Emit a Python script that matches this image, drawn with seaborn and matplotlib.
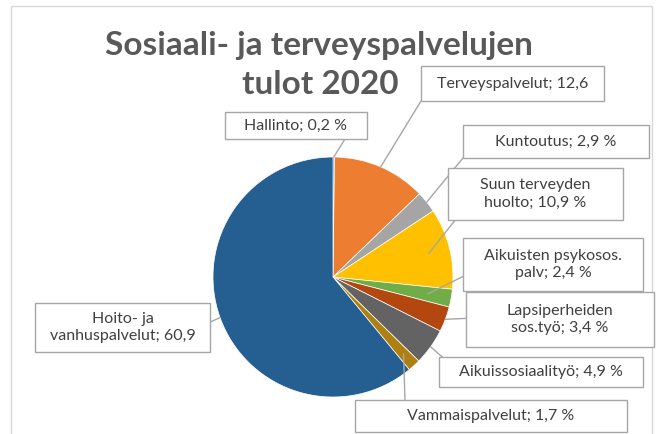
import numpy as np
import matplotlib
matplotlib.use("Agg")
import matplotlib.pyplot as plt
from matplotlib.patches import Rectangle
import seaborn as sns

# ----------------- Data -----------------
categories = [
    "Hallinto", "Terveyspalvelut", "Kuntoutus", "Suun terveyden huolto",
    "Aikuisten psykosos. palv", "Lapsiperheiden sos.työ", "Aikuissosiaalityö",
    "Vammaispalvelut", "Hoito- ja vanhuspalvelut",
]
shares = [0.2, 12.6, 2.9, 10.9, 2.4, 3.4, 4.9, 1.7, 60.9]
label_texts = [
    "Hallinto; 0,2 %",
    "Terveyspalvelut; 12,6",
    "Kuntoutus; 2,9 %",
    "Suun terveyden\nhuolto; 10,9 %",
    "Aikuisten psykosos.\npalv; 2,4 %",
    "Lapsiperheiden\nsos.työ; 3,4 %",
    "Aikuissosiaalityö; 4,9 %",
    "Vammaispalvelut; 1,7 %",
    "Hoito- ja\nvanhuspalvelut; 60,9",
]
slice_colors = ["#4472C4", "#ED7D31", "#A5A5A5", "#FFC000", "#70AD47",
                "#B4470F", "#636363", "#B07F12", "#255E91"]
title_lines = ["Sosiaali- ja terveyspalvelujen", "tulot 2020"]

# ----------------- Layout (pixels, origin top-left) -----------------
W, H = 661, 434
pie_center = (333, 277)
pie_radius = 120
# label boxes: x0, y0, x1, y1
boxes = [
    (225, 112, 367, 139),
    (421, 66, 604, 101),
    (463, 125, 649, 158),
    (448, 168, 623, 220),
    (463, 238, 643, 291),
    (466, 292, 654, 347),
    (439, 357, 643, 387),
    (355, 400, 627, 432),
    (35, 303, 210, 352),
]
# leader line end points on the label side
leader_ends = [(345, 139), (421, 101), (463, 158), (456, 219), (466, 275),
               (475, 318), (448, 362), (405, 401), (193, 330)]
# where the leader starts, as fraction of the radius
leader_r = [1.0, 1.0, 1.0, 0.82, 0.8, 1.0, 1.0, 0.87, 1.0]
title_pos = [(319, 45), (320, 85)]

TEXT = "#404040"
LINE = "#A6A6A6"


def fig_frac(x, y):
    return x / W, 1 - y / H


sns.set_theme(style="white")
plt.rcParams["font.family"] = ["Lato", "DejaVu Sans"]

fig = plt.figure(figsize=(W / 100, H / 100), dpi=100)
fig.patch.set_facecolor("white")

# outer chart frame (bottom edge falls outside the image)
x0, y0 = fig_frac(11, 6)
fig.patches.append(Rectangle((x0, -0.1), 652 / W - x0, y0 + 0.1,
                             transform=fig.transFigure, fill=False,
                             edgecolor="#D9D9D9", lw=1.0))

cx, cy = fig_frac(*pie_center)
ax = fig.add_axes([cx - pie_radius / W, cy - pie_radius / H,
                   2 * pie_radius / W, 2 * pie_radius / H])
wedges, _ = ax.pie(shares, colors=sns.color_palette(slice_colors),
                   startangle=90, counterclock=False,
                   wedgeprops=dict(edgecolor="white", linewidth=0.5))
ax.set_xlim(-1, 1)
ax.set_ylim(-1, 1)
ax.set_aspect("equal")
ax.axis("off")

# ----------------- Labels with leader lines -----------------
for w, txt, box, end, r in zip(wedges, label_texts, boxes, leader_ends, leader_r):
    ang = np.deg2rad((w.theta1 + w.theta2) / 2)
    ax.annotate("", xy=(r * np.cos(ang), r * np.sin(ang)), xycoords="data",
                xytext=fig_frac(*end), textcoords="figure fraction",
                arrowprops=dict(arrowstyle="-", color=LINE, lw=1.0,
                                shrinkA=0, shrinkB=0),
                annotation_clip=False)
    bx0, by1 = fig_frac(box[0], box[3])
    bx1, by0 = fig_frac(box[2], box[1])
    fig.patches.append(Rectangle((bx0, by1), bx1 - bx0, by0 - by1,
                                 transform=fig.transFigure, facecolor="white",
                                 edgecolor=LINE, lw=1.0, zorder=3))
    fig.text((bx0 + bx1) / 2, (by0 + by1) / 2, txt, ha="center", va="center",
             multialignment="center", fontsize=11.5, color=TEXT,
             linespacing=1.35, zorder=4)

# ----------------- Title -----------------
for line, pos in zip(title_lines, title_pos):
    tx, ty = fig_frac(*pos)
    fig.text(tx, ty, line, ha="center", va="center", fontsize=24,
             fontweight="bold", color="#595959")

fig.savefig("out.png", dpi=100)
